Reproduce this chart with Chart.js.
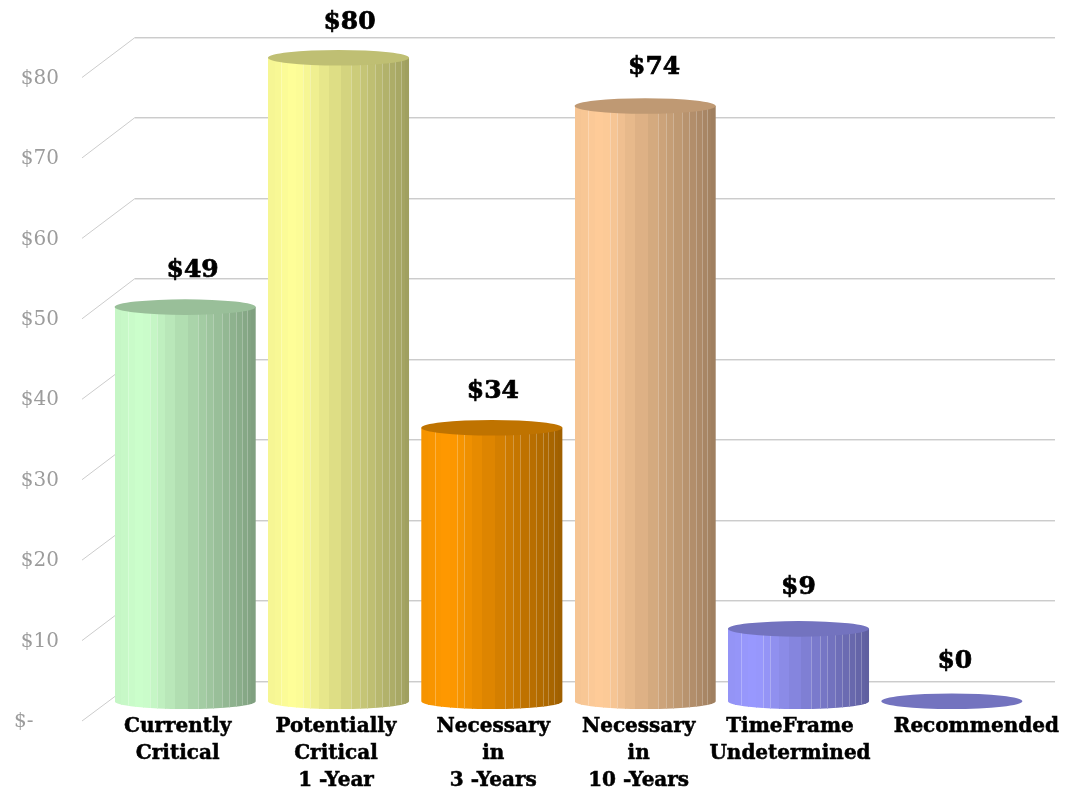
<!DOCTYPE html>
<html>
<head>
<meta charset="utf-8">
<style>html,body{margin:0;padding:0;background:#fff}canvas{display:block}</style>
<script src="https://cdn.jsdelivr.net/npm/chart.js@4/dist/chart.umd.min.js"></script>
</head>
<body>
<canvas id="chart" width="1078" height="790"></canvas>
<script>
// Cost by replacement timeframe, in thousands of dollars
const categories = [
  ['Currently', 'Critical'],
  ['Potentially', 'Critical', '1 -Year'],
  ['Necessary', 'in', '3 -Years'],
  ['Necessary', 'in', '10 -Years'],
  ['TimeFrame', 'Undetermined'],
  ['Recommended']
];
const costs = [49, 80, 34, 74, 9, 0];
const barColors = ['#ccffcc', '#ffff99', '#ff9900', '#ffcc99', '#9999ff', '#9999ff'];
const axisTicks = [0, 10, 20, 30, 40, 50, 60, 70, 80];

// Pseudo-3D floor depth: the back wall sits this far behind the front plane
const DEPTH_X = 53, DEPTH_Y = 39.5;
const SERIF = '"DejaVu Serif", serif';
const CAP_RY = 7.8;
// Facet boundaries across the visible half of a column, as fractions of its width
const FACET_EDGES = [0, .048, .095, .143, .2, .25, .3, .36, .43, .52, .59, .65, .7, .76, .81, .86, .9, .94, .97, 1];
// Boundaries that catch a thin highlight
const LIT_EDGES = [.095, .25, .3, .59, .65, .7, .76, .81, .86, .9, .94];
// Hand placement of the text relative to each column
const categoryNudge = [19, 24, 28, 20, 18, 51];
const valueNudgeX = [7.5, 11, 1, 9, 0, 3];
const valueNudgeY = [-37, -35, -36, -39, -41, -40];

function shade(hex, k) {
  const n = parseInt(hex.slice(1), 16);
  const c = [n >> 16 & 255, n >> 8 & 255, n & 255].map(v => Math.round(v * k));
  return `rgb(${c[0]},${c[1]},${c[2]})`;
}
// Light falls from the left: brightest a fifth of the way across
function lightAt(f) {
  return f < 0.2 ? 0.96 + 0.04 * (f / 0.2) : 1 - 0.38 * ((f - 0.2) / 0.8);
}

function drawCylinder(ctx, cx, topY, baseY, rx, color) {
  if (baseY - topY > 0.5) {
    ctx.save();
    ctx.beginPath();
    ctx.moveTo(cx - rx, topY);
    ctx.lineTo(cx + rx, topY);
    ctx.lineTo(cx + rx, baseY);
    ctx.ellipse(cx, baseY, rx, CAP_RY, 0, 0, Math.PI);
    ctx.closePath();
    ctx.clip();
    const left = cx - rx, w = rx * 2;
    for (let i = 0; i < FACET_EDGES.length - 1; i++) {
      const a = FACET_EDGES[i], b = FACET_EDGES[i + 1];
      ctx.fillStyle = shade(color, lightAt((a + b) / 2));
      const x0 = Math.round(left + a * w), x1 = Math.round(left + b * w);
      ctx.fillRect(x0, topY - 1, x1 - x0 + 1, baseY - topY + CAP_RY + 2);
    }
    ctx.fillStyle = 'rgba(255,255,255,0.25)';
    LIT_EDGES.forEach(e => {
      ctx.fillRect(Math.round(left + e * w), topY, 1, baseY - topY + CAP_RY);
    });
    ctx.restore();
  }
  ctx.beginPath();
  ctx.ellipse(cx, topY, rx, CAP_RY, 0, 0, Math.PI * 2);
  ctx.fillStyle = shade(color, 0.75);
  ctx.fill();
}

// Shift an axis's drawn labels without touching its layout
function nudgeLabels(scale, dx, dy) {
  if (scale.nudged) return;
  scale.nudged = true;
  const items = scale.getLabelItems.bind(scale);
  scale.getLabelItems = area => items(area).map((item, i) => ({
    ...item,
    options: {
      ...item.options,
      translation: [item.options.translation[0] + dx(i), item.options.translation[1] + dy]
    }
  }));
  // Labels may rise slightly above the axis box, so no clip to it
  scale._computeLabelArea = () => undefined;
}

const wallPlugin = {
  id: 'wall',
  beforeDatasetsDraw(chart) {
    const { ctx, chartArea, scales: { y } } = chart;
    ctx.save();
    ctx.lineWidth = 1;
    y.ticks.forEach(t => {
      const py = y.getPixelForValue(t.value);
      const backY = Math.round(py - DEPTH_Y) - 0.5;
      // Soft lower edge on the wall rules
      ctx.strokeStyle = '#e8e8e8';
      ctx.beginPath();
      ctx.moveTo(chartArea.left + DEPTH_X, backY + 1);
      ctx.lineTo(chartArea.right + DEPTH_X, backY + 1);
      ctx.stroke();
      ctx.strokeStyle = '#cccccc';
      ctx.beginPath();
      ctx.moveTo(chartArea.left, py);
      ctx.lineTo(chartArea.left + DEPTH_X, backY);
      ctx.lineTo(chartArea.right + DEPTH_X, backY);
      ctx.stroke();
    });
    ctx.restore();
  },
  // Columns stand halfway between the front plane and the back wall
  beforeDatasetDraw(chart, args) {
    const { ctx } = chart;
    const meta = args.meta;
    const colors = chart.data.datasets[args.index].backgroundColor;
    meta.data.forEach((bar, i) => {
      drawCylinder(ctx, bar.x + DEPTH_X / 2, bar.y - DEPTH_Y / 2, bar.base - DEPTH_Y / 2, bar.width / 2, colors[i]);
    });
    ctx.save();
    ctx.font = 'bold 25px ' + SERIF;
    ctx.fillStyle = '#000';
    ctx.strokeStyle = '#000';
    ctx.lineWidth = 0.7;
    ctx.textAlign = 'center';
    ctx.textBaseline = 'middle';
    meta.data.forEach((bar, i) => {
      const value = chart.data.datasets[args.index].data[i];
      const lx = bar.x + DEPTH_X / 2 + valueNudgeX[i];
      const ly = bar.y - DEPTH_Y / 2 + valueNudgeY[i];
      ctx.fillText('$' + value, lx, ly);
      ctx.strokeText('$' + value, lx, ly);
    });
    ctx.restore();
    return false;
  }
};

new Chart(document.getElementById('chart'), {
  type: 'bar',
  data: {
    labels: categories,
    datasets: [{ data: costs, backgroundColor: barColors, barPercentage: 0.92, categoryPercentage: 1 }]
  },
  plugins: [wallPlugin],
  options: {
    responsive: false,
    animation: false,
    layout: { padding: { left: 0, top: 77.5, right: 76, bottom: 0 } },
    plugins: { legend: { display: false }, tooltip: { enabled: false } },
    scales: {
      x: {
        grid: { display: false, drawTicks: false },
        border: { display: false },
        ticks: {
          color: '#000',
          font: { family: SERIF, size: 20, weight: 'bold', lineHeight: 1.35 },
          textStrokeColor: '#000',
          textStrokeWidth: 0.5,
          autoSkip: false,
          maxRotation: 0,
          minRotation: 0,
          padding: -8
        },
        afterFit(scale) {
          scale.height = 69;
          nudgeLabels(scale, i => categoryNudge[i], 0);
        }
      },
      y: {
        min: 0,
        max: 80,
        afterBuildTicks(scale) { scale.ticks = axisTicks.map(value => ({ value })); },
        grid: { display: false, drawTicks: false },
        border: { display: false },
        ticks: {
          color: '#9c9c9c',
          font: { family: SERIF, size: 20 },
          padding: 23,
          callback: v => v === 0 ? '$-    ' : '$' + v
        },
        afterFit(scale) {
          scale.width = 82;
          nudgeLabels(scale, () => 0, 1);
        }
      }
    }
  }
});
</script>
</body>
</html>
